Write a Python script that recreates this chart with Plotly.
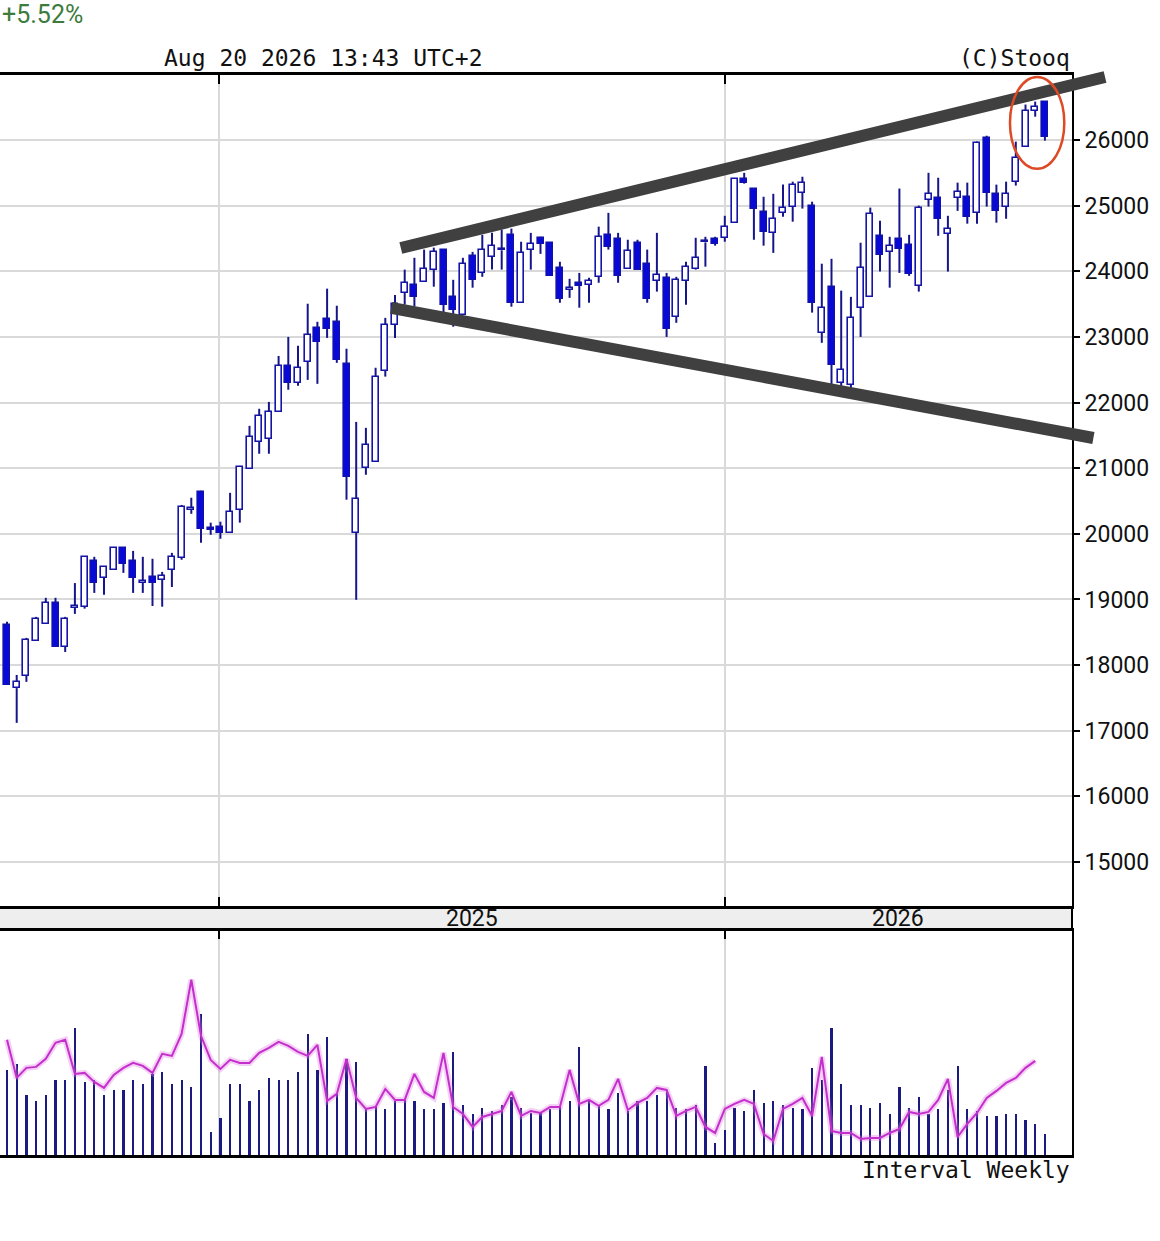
import pandas as pd
import plotly.graph_objects as go

# ---------------- data ----------------
start_date = "2024-08-01"   # first weekly candle (Thursdays)

open_ = [18610,17650,17835,18370,18630,18950,18280,18870,18890,19590,
         19330,19450,19785,19590,19255,19345,19300,19450,19635,20370,
         20640,20090,20105,20015,20365,20990,21400,21450,21860,22560,
         22300,22620,23140,23275,23230,22590,20015,21005,21095,22485,
         23185,23675,23795,23840,24025,24330,23610,23340,24235,23975,
         24220,24320,24555,23520,24330,24510,24435,24055,23720,23825,
         23795,23915,24555,24495,24040,24435,24115,23855,23900,23305,
         23855,24040,24440,24495,24510,24740,25410,25260,24905,24585,
         24890,24985,25195,25000,23065,23765,22300,22270,23445,23610,
         24540,24295,24495,24405,23780,25090,25120,24570,25120,25135,
         24890,26035,25180,24985,25365,25900,26445,26585]
high = [18660,17850,18415,18735,19025,19025,18735,19250,19650,19650,
        19510,19800,19785,19740,19650,19620,19420,19710,20440,20550,
        20655,20170,20185,20625,21035,21645,21905,22010,22710,23000,
        22865,23505,23230,23735,23475,22820,21705,21615,22530,23290,
        23640,24025,24205,24330,24360,24330,23870,24205,24295,24555,
        24585,24635,24650,24450,24585,24525,24435,24145,23885,23975,
        23900,24680,24890,24585,24480,24480,24330,24585,23975,23915,
        24145,24510,24525,24525,24845,25410,25500,25260,25135,25180,
        25320,25365,25440,25060,24115,24190,23705,23610,24435,24970,
        24770,24525,25260,24555,25000,25500,25425,24845,25350,25350,
        25975,26065,25320,25365,25975,26540,26585,26585]
low = [17700,17120,17745,18370,18630,18280,18200,18780,18860,19100,
       19070,19450,19405,19100,19100,18900,18890,19190,19605,20305,
       19865,19985,19925,20015,20170,20990,21220,21220,21860,22195,
       22255,22345,22285,22985,22605,20520,18995,20900,21095,22395,
       22985,23490,23460,23840,23765,23370,23155,23340,23750,23915,
       24025,24025,23460,23520,24025,24265,23930,23520,23595,23445,
       23520,23825,24330,23825,24040,24025,23520,23690,23000,23215,
       23490,24025,24070,24390,24450,24740,25335,24480,24390,24280,
       24830,24755,24955,23370,22910,22270,22225,22195,23000,23610,
       23995,23750,23975,23930,23690,24985,24540,23995,24920,24725,
       24725,24985,24740,24800,25305,25900,26355,25990]
close = [17700,17745,18385,18705,18950,18280,18705,18900,19650,19255,
         19495,19785,19545,19330,19280,19255,19360,19650,20410,20390,
         20075,20065,20015,20335,21020,21480,21800,21860,22560,22300,
         22530,23035,22925,23125,22650,20870,20535,21355,22395,23185,
         23500,23825,23610,24040,24295,23490,23415,24115,23870,24330,
         24390,24340,23520,24280,24420,24420,23930,23580,23745,23780,
         23855,24525,24375,23930,24315,24025,23580,23945,23125,23870,
         24070,24205,24460,24420,24680,25410,25350,24955,24600,24800,
         24970,25320,25350,23520,23445,22575,22500,23290,24055,24875,
         24250,24390,24345,23960,24970,25180,24800,24650,25210,24830,
         25960,25195,24920,25180,25730,26445,26505,26050]
volume = [85,91,60,54,60,75,75,127,73,75,
          60,65,65,75,71,81,83,71,75,68,
          141,23,37,71,71,54,65,77,75,75,
          83,121,85,118,61,96,93,47,49,46,
          54,56,54,46,46,52,103,50,41,47,
          44,50,58,47,42,42,46,48,54,108,
          54,49,46,62,44,54,54,60,65,47,
          46,50,89,12,25,47,44,65,52,54,
          50,47,46,87,75,127,71,50,50,47,
          52,41,68,47,58,41,46,65,89,46,
          44,39,39,41,41,35,31,21]
vol_line = [115,77,87,88,96,112,115,81,82,73,
            67,80,87,92,89,82,101,99,121,175,
            119,95,86,95,92,92,102,107,113,109,
            103,99,110,54,61,96,57,46,48,66,
            55,55,81,63,57,102,48,41,28,38,
            41,44,63,39,44,42,48,48,85,51,
            55,49,55,76,45,52,57,67,65,39,
            44,48,28,22,46,51,55,51,21,14,
            46,51,57,39,98,24,22,22,16,17,
            17,22,26,43,41,43,55,76,18,31,
            42,57,64,72,77,87,94]
price_ticks = [15000,16000,17000,18000,19000,20000,21000,22000,23000,24000,25000,26000]
year_lines = ["2025-01-01", "2026-01-01"]
year_labels = ["2025", "2026"]
# hand-drawn channel lines: (week index, price)
upper_line = [(40.6, 24355), (113.2, 26960)]
lower_line = [(39.6, 23441), (112.0, 21460)]
# highlight ellipse: (week index range, price range)
ellipse_box = [(103.4, 109.0), (25560, 26960)]

# ---------------- geometry ----------------
W, H = 1160, 1241
ML, MR, MT, MB = 0, 88, 75, 86
plot_h = H - MT - MB
def ypap(py):               # pixel row -> paper y
    return (H - MB - py) / plot_h

price_dom = [ypap(906), 1.0]
vol_dom = [0.0, ypap(930.7)]
PMIN, PMAX = 14330, 26990
VMIN, VMAX = 0, 224
I0, I1 = -7 / 9.7, (1072 - 7) / 9.7   # visible week-index range

t0 = pd.Timestamp(start_date)
def idx_date(i):
    return t0 + pd.Timedelta(days=7 * i)

dates = [idx_date(i) for i in range(len(open_))]
DAY_MS = 86400000
body_w = 6.0 / 9.7 * 7 * DAY_MS
vol_w = 2.2 / 9.7 * 7 * DAY_MS

def xp(i):
    return (i - I0) / (I1 - I0)
def pp(p):
    return price_dom[0] + (p - PMIN) / (PMAX - PMIN) * (price_dom[1] - price_dom[0])

fig = go.Figure()

# wicks (split so they don't cross hollow bodies)
wx, wy = [], []
for d, o, h, l, c in zip(dates, open_, high, low, close):
    top, bot = max(o, c), min(o, c)
    if h > top:
        wx += [d, d, None]; wy += [top, h, None]
    if l < bot:
        wx += [d, d, None]; wy += [bot, l, None]
fig.add_trace(go.Scatter(x=wx, y=wy, mode="lines", line=dict(color="#16168a", width=2),
                         hoverinfo="skip", showlegend=False, xaxis="x", yaxis="y"))

# bodies
up = [c >= o for o, c in zip(open_, close)]
for flag, fill, lc in [(True, "white", "#1414a8"), (False, "#0808d8", "#1010b0")]:
    xs = [d for d, u in zip(dates, up) if u == flag]
    base = [min(o, c) for o, c, u in zip(open_, close, up) if u == flag]
    hgt = [max(abs(c - o), 12) for o, c, u in zip(open_, close, up) if u == flag]
    fig.add_trace(go.Bar(x=xs, y=hgt, base=base, width=body_w,
                         marker=dict(color=fill, line=dict(color=lc, width=1.6)),
                         showlegend=False, hoverinfo="skip", xaxis="x", yaxis="y"))

# volume
fig.add_trace(go.Bar(x=dates, y=volume, width=vol_w, marker=dict(color="#1a1a80", line=dict(width=0)),
                     showlegend=False, hoverinfo="skip", xaxis="x2", yaxis="y2"))
fig.add_trace(go.Scatter(x=dates[:len(vol_line)], y=vol_line, mode="lines",
                         line=dict(color="rgba(225,120,230,0.35)", width=6),
                         showlegend=False, hoverinfo="skip", xaxis="x2", yaxis="y2"))
fig.add_trace(go.Scatter(x=dates[:len(vol_line)], y=vol_line, mode="lines",
                         line=dict(color="#c42fcc", width=2),
                         showlegend=False, hoverinfo="skip", xaxis="x2", yaxis="y2"))

xrange = [idx_date(I0), idx_date(I1)]
common_x = dict(type="date", range=xrange, tickvals=year_lines, showticklabels=False,
                showgrid=True, gridcolor="#d9d9d9", gridwidth=2, zeroline=False,
                ticks="inside", ticklen=9, tickwidth=2, tickcolor="black",
                showline=True, linecolor="black", linewidth=2.5)

shapes = [
    # date strip between panes
    dict(type="rect", xref="paper", yref="paper", x0=0, x1=1, y0=vol_dom[1], y1=price_dom[0],
         fillcolor="#eeeeee", line=dict(width=0), layer="below"),
    dict(type="line", xref="paper", yref="paper", x0=1, x1=1, y0=vol_dom[1], y1=price_dom[0],
         line=dict(color="black", width=2)),
]
for (a, b) in [upper_line, lower_line]:
    shapes.append(dict(type="line", xref="paper", yref="paper",
                       x0=xp(a[0]), y0=pp(a[1]), x1=xp(b[0]), y1=pp(b[1]),
                       line=dict(color="#404040", width=12), layer="above"))
shapes.append(dict(type="circle", xref="paper", yref="paper",
                   x0=xp(ellipse_box[0][0]), x1=xp(ellipse_box[0][1]),
                   y0=pp(ellipse_box[1][0]), y1=pp(ellipse_box[1][1]),
                   line=dict(color="#dc4a26", width=2.5), layer="above"))

mono = "DejaVu Sans Mono"
annotations = [
    dict(text="+5.52%", xref="paper", yref="paper", x=0, y=ypap(15), xanchor="left", yanchor="middle",
         showarrow=False, font=dict(family="Roboto", size=25, color="#3c7b3c")),
    dict(text="Aug 20 2026 13:43 UTC+2", xref="paper", yref="paper", x=162 / 1072, y=ypap(58),
         xanchor="left", yanchor="middle", showarrow=False, font=dict(family=mono, size=23, color="#111")),
    dict(text="(C)Stooq", xref="paper", yref="paper", x=1, y=ypap(58), xanchor="right", yanchor="middle",
         showarrow=False, font=dict(family=mono, size=23, color="#111")),
    dict(text="Interval Weekly", xref="paper", yref="paper", x=1, y=ypap(1170), xanchor="right",
         yanchor="middle", showarrow=False, font=dict(family=mono, size=23, color="#111")),
]
# year labels centred on the visible part of each year
y25 = pd.Timestamp(year_lines[0]); y26 = pd.Timestamp(year_lines[1])
label_pos = [y25 + (y26 - y25) / 2, y26 + (xrange[1] - y26) / 2]
for lab, pos in zip(year_labels, label_pos):
    annotations.append(dict(text=lab, xref="x", yref="paper", x=pos, y=ypap(918.5), xanchor="center",
                            yanchor="middle", showarrow=False,
                            font=dict(family="Roboto", size=23, color="#111")))

fig.update_layout(
    width=W, height=H, margin=dict(l=ML, r=MR, t=MT, b=MB),
    paper_bgcolor="white", plot_bgcolor="white", barmode="overlay", bargap=0,
    showlegend=False, hovermode=False,
    xaxis=dict(**common_x, anchor="y", mirror="ticks"),
    xaxis2=dict(**common_x, anchor="y2", matches="x", side="top", mirror=True),
    yaxis=dict(domain=price_dom, range=[PMIN, PMAX], side="right", tickvals=price_ticks,
               tickformat="d",
               showgrid=True, gridcolor="#d9d9d9", gridwidth=2, zeroline=False,
               showline=True, linecolor="black", linewidth=2, ticks="outside", ticklen=6,
               tickwidth=2, tickcolor="black",
               tickfont=dict(family="Roboto", size=23, color="#111")),
    yaxis2=dict(domain=vol_dom, range=[VMIN, VMAX], side="right", anchor="x2", showgrid=False,
                zeroline=False, showticklabels=False, showline=True, linecolor="black", linewidth=2),
    shapes=shapes, annotations=annotations,
)

fig.write_html("out.html", config={"displayModeBar": False},
               post_script="document.body.style.margin='0';")
